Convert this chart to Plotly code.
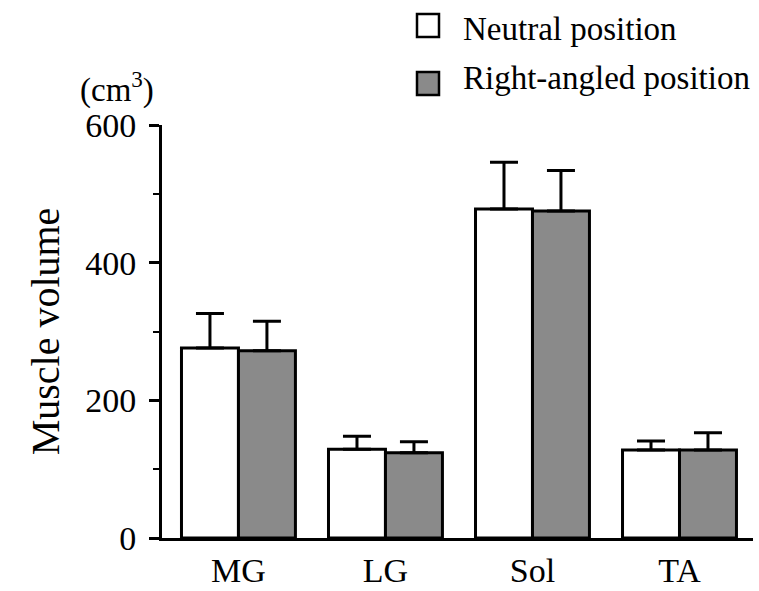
import plotly.graph_objects as go

# Muscle volume (cm^3) by muscle, in two ankle positions
muscles = ["MG", "LG", "Sol", "TA"]
neutral_mean = [276, 129, 478, 128]
neutral_sd = [50, 19, 68, 13]
right_mean = [272, 124, 475, 128]
right_sd = [43, 16, 59, 25]
series_names = ["Neutral position", "Right-angled position"]
y_ticks = [0, 200, 400, 600]

W, H = 759, 591
M_L, M_R, M_T, M_B = 162, 6, 125, 53
PW, PH = W - M_L - M_R, H - M_T - M_B
FONT = "Liberation Serif"
GREY = "#8a8a8a"


def px(x):
    return (x - M_L) / PW


def py(y):
    return (H - M_B - y) / PH


fig = go.Figure()
for name, mean, sd, fill in [
    (series_names[0], neutral_mean, neutral_sd, "white"),
    (series_names[1], right_mean, right_sd, GREY),
]:
    fig.add_trace(go.Bar(
        x=muscles, y=mean, name=name,
        marker=dict(color=fill, line=dict(color="black", width=3)),
        error_y=dict(type="data", array=sd, arrayminus=[0] * len(sd),
                     symmetric=False, color="black", thickness=3, width=14),
        showlegend=False,
    ))

# hand-drawn legend keys and labels
shapes = []
annotations = []
for i, (name, fill) in enumerate(zip(series_names, ["white", GREY])):
    top = 14 + i * 58
    shapes.append(dict(type="rect", xref="paper", yref="paper",
                       x0=px(417), x1=px(439), y0=py(top + 23), y1=py(top),
                       fillcolor=fill, line=dict(color="black", width=2.5)))
    annotations.append(dict(text=name, xref="paper", yref="paper",
                            x=px(461), y=py(29 + i * 49), xanchor="left", yanchor="middle",
                            showarrow=False, font=dict(family=FONT, size=33, color="black")))

annotations.append(dict(text="(cm<sup>3</sup>)", xref="paper", yref="paper",
                        x=px(117), y=py(88), xanchor="center", yanchor="middle",
                        showarrow=False, font=dict(family=FONT, size=33, color="black")))

fig.update_layout(
    width=W, height=H,
    margin=dict(l=M_L, r=M_R, t=M_T, b=M_B, autoexpand=False),
    paper_bgcolor="white", plot_bgcolor="white",
    barmode="group", bargap=0.225, bargroupgap=0,
    font=dict(family=FONT, size=34, color="black"),
    shapes=shapes, annotations=annotations,
)
fig.update_xaxes(
    range=[-0.52, 3.5], showline=True, linecolor="black", linewidth=2.5,
    ticks="", ticklen=0, showgrid=False, zeroline=False, ticklabelstandoff=0,
    tickfont=dict(family=FONT, size=34), automargin=False,
)
fig.update_yaxes(
    range=[0, 600], tickvals=y_ticks, ticks="outside", ticklen=10, tickwidth=2.5,
    tickcolor="black", showline=True, linecolor="black", linewidth=3,
    showgrid=False, zeroline=False, ticklabelstandoff=6, automargin=False,
    tickfont=dict(family=FONT, size=34),
    minor=dict(dtick=100, tick0=0, ticks="outside", ticklen=6, tickwidth=2, tickcolor="black"),
    title=dict(text="Muscle volume", font=dict(family=FONT, size=40), standoff=14),
)

fig.write_html("out.html")
